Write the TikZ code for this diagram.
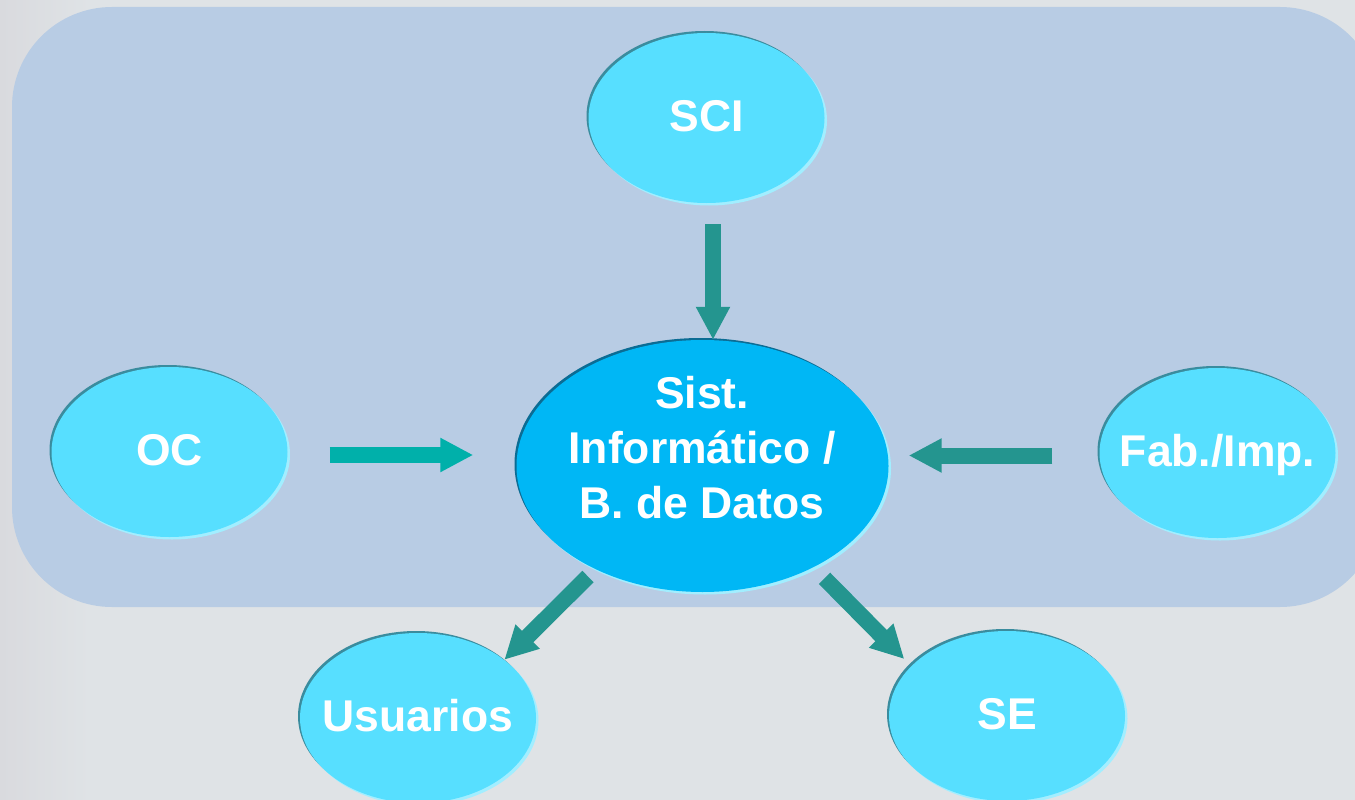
\documentclass[tikz,border=0pt]{standalone}
\usepackage{fontspec}
\setmainfont{Liberation Sans}
\usetikzlibrary{shapes.geometric,arrows.meta}
\definecolor{bggray}{HTML}{DFE3E6}
\definecolor{bgedge}{HTML}{D9DADE}
\definecolor{panel}{HTML}{B8CCE4}
\definecolor{cellfill}{HTML}{57DFFF}
\definecolor{bigfill}{HTML}{00B7F5}
\definecolor{rimdark}{HTML}{3A8C9E}
\definecolor{bigrimdark}{HTML}{0B6C94}
\definecolor{rimlight}{HTML}{A2EEFF}
\definecolor{arrowteal}{HTML}{24958F}
\definecolor{arrowocteal}{HTML}{00B0AA}
\newcommand{\zw}[1]{\makebox[0pt]{#1}}
\begin{document}
\begin{tikzpicture}[x=1pt,y=-1pt,
  lbl/.style={text=white, font=\fontsize{44.5}{55}\selectfont\bfseries},
  small/.style={ellipse, fill=cellfill, minimum width=236pt, minimum height=170pt,
    inner sep=0pt, lbl, text height=27pt, text depth=0pt},
  big/.style={ellipse, fill=bigfill, minimum width=372pt, minimum height=252pt, inner sep=0pt},
  blk/.style={draw=arrowteal, line width=16pt, -{Triangle[length=33pt,width=32pt]}},
  darkrim/.style={fill=rimdark},
  lightrim/.style={fill=rimlight}]
\useasboundingbox (0,0) rectangle (1355,800);
\clip (0,0) rectangle (1355,800);
% background
\fill[bggray] (0,0) rectangle (1355,800);
\shade[left color=bgedge, right color=bggray] (0,0) rectangle (90,800);
\fill[panel, rounded corners=100pt] (12,7) rectangle (1380,607);
% centres
\coordinate (cSCI) at (706.5,118);
\coordinate (cOC) at (169.5,452);
\coordinate (cFAB) at (1217.5,453);
\coordinate (cUSU) at (418,718);
\coordinate (cSE) at (1007,716);
\coordinate (cDB) at (702.5,466);
% rims
\foreach \c in {cSCI,cOC,cFAB,cUSU,cSE}{
  \fill[darkrim] (\c) ++(-2,-2) ellipse [x radius=118pt, y radius=85pt];
  \fill[lightrim] (\c) ++(2.5,2.5) ellipse [x radius=118pt, y radius=85pt];
}
\fill[bigrimdark] (cDB) ++(-2,-2) ellipse [x radius=186pt, y radius=126pt];
\fill[rimlight] (cDB) ++(2.5,2.5) ellipse [x radius=186pt, y radius=126pt];
% nodes
\node[small] (sci) at (cSCI) {\zw{SCI}};
\node[small] (oc) at (cOC) {\zw{OC}};
\node[small] (fab) at (cFAB) {\zw{Fab./Imp.}};
\node[small] (usu) at (cUSU) {\zw{Usuarios}};
\node[small] (se) at (cSE) {\zw{SE}};
\node[big] (db) at (cDB) {};
\node[lbl, align=center, inner sep=0pt] (dbtext) at (702,448) {Sist.\\Informático /\\B. de Datos};
% connectors
\draw[blk, shorten <=21pt] ([xshift=6.5pt]sci.south) -- ([xshift=6.5pt]sci.south |- db.north);
\draw[blk, draw=arrowocteal, shorten <=42pt, shorten >=43pt] ([yshift=-3pt]oc.east) -- ([yshift=-3pt]oc.east -| db.west);
\draw[blk, shorten <=47pt, shorten >=20pt] ([yshift=-2.5pt]fab.west) -- ([yshift=-2.5pt]fab.west -| db.east);
\draw[blk] ([yshift=-11pt]db.221) -- (usu.34);
\draw[blk] ([yshift=-17pt]db.322) -- ([shift={(-9,-5)}]se.151);
\end{tikzpicture}
\end{document}
